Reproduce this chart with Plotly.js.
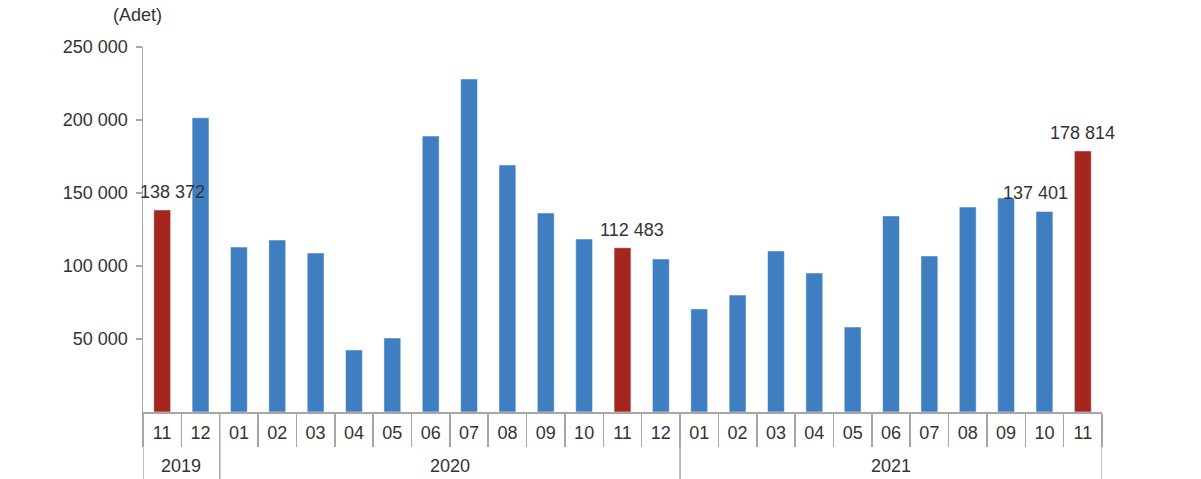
<!DOCTYPE html>
<html>
<head>
<meta charset="utf-8">
<script src="https://cdn.plot.ly/plotly-3.0.1.min.js"></script>
<style>html,body{margin:0;padding:0;background:#fff;}#chart{width:1201px;height:479px;}</style>
</head>
<body>
<div id="chart"></div>
<script>
// Data
const years = ["2019","2019",
  "2020","2020","2020","2020","2020","2020","2020","2020","2020","2020","2020","2020",
  "2021","2021","2021","2021","2021","2021","2021","2021","2021","2021","2021"];
const months = ["11","12",
  "01","02","03","04","05","06","07","08","09","10","11","12",
  "01","02","03","04","05","06","07","08","09","10","11"];
const values = [138372, 201500,
  113000, 117800, 108900, 42500, 50700, 189000, 228100, 169200, 136300, 118500, 112483, 104800,
  70600, 80100, 110300, 95200, 58200, 134300, 106900, 140400, 146600, 137401, 178814];
const highlighted = [0, 12, 24];          // red bars (same month each year)
const labelled = [0, 12, 23, 24];         // bars that carry value labels
const labelShift = [10, 9, -9, 0];        // horizontal nudge of the value labels
const yTicks = [50000, 100000, 150000, 200000, 250000];

const blue = "#3f7fc1", red = "#a4261f", axisGrey = "#a6a6a6";
const keys = years.map((y, i) => y + "-" + months[i]);
const colors = values.map((v, i) => highlighted.includes(i) ? red : blue);
const fmt = v => String(v).replace(/\B(?=(\d{3})+(?!\d))/g, " ");

const font = {family: "Liberation Sans, Arial, sans-serif", size: 18, color: "#333333"};

const trace = {
  type: "bar",
  x: keys,
  y: values,
  marker: {color: colors, line: {color: "rgba(255,255,255,0.5)", width: 1}},
  hoverinfo: "skip"
};

// plot geometry helpers (paper fractions below the x axis)
const plotTop = 47, plotBottom = 412, figH = 479;
const below = px => -(px - plotBottom) / (plotBottom - plotTop);

const annotations = labelled.map((idx, k) => ({
  x: idx, y: values[idx], xref: "x", yref: "y",
  text: fmt(values[idx]), showarrow: false,
  xanchor: "center", yanchor: "bottom", xshift: labelShift[k], yshift: 6,
  font: font
}));
annotations.push({
  x: (137 - 143) / (1102 - 143), y: 1 + (plotTop - 15) / (plotBottom - plotTop),
  xref: "paper", yref: "paper", xanchor: "center", yanchor: "middle",
  text: "(Adet)", showarrow: false, font: font
});

// year groups: labels and dividers derived from the years array
const shapes = [];
let start = 0;
for (let i = 1; i <= years.length; i++) {
  if (i === years.length || years[i] !== years[start]) {
    annotations.push({
      x: (start + i - 1) / 2, y: below(466), xref: "x", yref: "paper",
      xanchor: "center", yanchor: "middle", text: years[start], showarrow: false, font: font
    });
    shapes.push({type: "line", xref: "x", yref: "paper", x0: start - 0.5, x1: start - 0.5,
      y0: 0, y1: below(figH), line: {color: axisGrey, width: 1.5}});
    start = i;
  }
}
shapes.push({type: "line", xref: "x", yref: "paper", x0: years.length - 0.5, x1: years.length - 0.5,
  y0: 0, y1: below(figH), line: {color: axisGrey, width: 1.5}});

const layout = {
  width: 1201, height: 479,
  margin: {l: 143, r: 99, t: plotTop, b: figH - plotBottom},
  paper_bgcolor: "#fff", plot_bgcolor: "#fff",
  bargap: 0.56,
  showlegend: false,
  font: font,
  xaxis: {
    type: "category",
    range: [-0.5, keys.length - 0.5], autorange: false,
    tickmode: "array", tickvals: keys, ticktext: months,
    showline: true, linecolor: axisGrey, linewidth: 1.5,
    ticks: "outside", tickson: "boundaries", ticklen: 33, tickcolor: axisGrey, tickwidth: 1.5,
    ticklabelstandoff: 4,
    showgrid: false, zeroline: false,
    tickfont: font
  },
  yaxis: {
    range: [0, 250000],
    tickvals: yTicks, ticktext: yTicks.map(fmt),
    showline: true, linecolor: axisGrey, linewidth: 1.5,
    ticks: "outside", ticklen: 6, tickcolor: axisGrey, tickwidth: 1.5,
    ticklabelstandoff: 4,
    showgrid: false, zeroline: false,
    tickfont: font
  },
  shapes: shapes,
  annotations: annotations
};

Plotly.newPlot("chart", [trace], layout, {staticPlot: true});
</script>
</body>
</html>
